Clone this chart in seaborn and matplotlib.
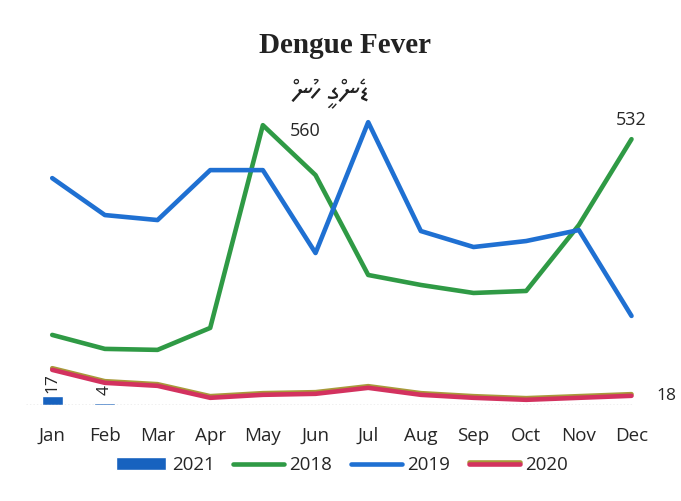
import pandas as pd
import matplotlib.pyplot as plt
import matplotlib.patheffects as pe
import seaborn as sns
import unicodedata

months = ["Jan", "Feb", "Mar", "Apr", "May", "Jun", "Jul", "Aug", "Sep", "Oct", "Nov", "Dec"]
cases_2018 = [140, 112, 110, 154, 560, 460, 260, 240, 224, 228, 360, 532]
cases_2019 = [454, 380, 370, 470, 470, 304, 566, 348, 316, 328, 350, 178]
cases_2020 = [70, 44, 38, 14, 20, 22, 34, 20, 14, 10, 14, 18]
cases_2021 = [17, 4]

colors = {"2018": "#2f9a45", "2019": "#1f70d2", "2020": "#d3325f", "2021": "#1762bf"}
subtitle = "ޑެންގީ ހުން"


def rtl(text):
    # matplotlib lays text out left to right, so flip the letter clusters by hand
    clusters = []
    for ch in text:
        if clusters and unicodedata.combining(ch):
            clusters[-1] += ch
        else:
            clusters.append(ch)
    return "".join(reversed(clusters))


sns.set_style("white")

df = pd.DataFrame({
    "idx": list(range(12)) * 3,
    "cases": cases_2018 + cases_2019 + cases_2020,
    "year": ["2018"] * 12 + ["2019"] * 12 + ["2020"] * 12,
})
bars = pd.DataFrame({"idx": range(len(cases_2021)), "cases": cases_2021})

fig = plt.figure(figsize=(6.81, 5.01), dpi=100)
ax = fig.add_axes([0.038, 0.192, 0.928, 0.598])

ax.bar(bars["idx"], bars["cases"], width=0.4, color=colors["2021"], label="2021")

sns.lineplot(data=df[df.year == "2018"], x="idx", y="cases", color=colors["2018"], lw=3.3, ax=ax, label="2018")
sns.lineplot(data=df[df.year == "2019"], x="idx", y="cases", color=colors["2019"], lw=3.3, ax=ax, label="2019")
sns.lineplot(data=df[df.year == "2020"], x="idx", y="cases", color=colors["2020"], lw=3.3, ax=ax, label="2020",
             path_effects=[pe.Stroke(linewidth=3.3, foreground="#a89a3a", offset=(0, 1.2)), pe.Normal()])

ax.set_xlim(-0.5, 11.5)
ax.set_ylim(0, 600)
ax.axhline(0, xmin=0, xmax=0.96, color="#b0b0b0", lw=1, ls=(0, (1, 1.5)))
ax.set_xticks(range(12))
ax.set_xticklabels(months, fontsize=13.5, family="Open Sans")
ax.set_yticks([])
ax.set_xlabel("")
ax.set_ylabel("")
ax.tick_params(axis="x", length=0, pad=16)
for s in ax.spines.values():
    s.set_visible(False)

# data labels
ax.text(4.8, 548, "560", fontsize=13, family="Open Sans", ha="center", va="center")
ax.text(11, 570, "532", fontsize=13, family="Open Sans", ha="center", va="center")
ax.text(11.67, 18, "18", fontsize=12.5, family="Open Sans", ha="center", va="center")
ax.text(0, 44, "17", fontsize=12.5, family="Open Sans", ha="center", va="center", rotation=90)
ax.text(1, 30, "4", fontsize=12.5, family="Open Sans", ha="center", va="center", rotation=90)

fig.text(0.507, 0.91, "Dengue Fever", fontsize=21, family="Liberation Serif", weight="bold",
         ha="center", va="center", color="#222222")
fig.text(0.487, 0.812, rtl(subtitle), fontsize=21, family=["Noto Sans Thaana", "DejaVu Sans"],
         ha="center", va="center", color="#222222")

handles, labels = ax.get_legend_handles_labels()
order = [labels.index(y) for y in ["2021", "2018", "2019", "2020"]]
ax.legend([handles[i] for i in order], [labels[i] for i in order],
          loc="upper center", bbox_to_anchor=(0.5, -0.115), ncol=4, frameon=False,
          handlelength=2.7, handletextpad=0.3, columnspacing=1.0,
          prop={"family": "Open Sans", "size": 13.5})

fig.savefig("out.png", dpi=100)
